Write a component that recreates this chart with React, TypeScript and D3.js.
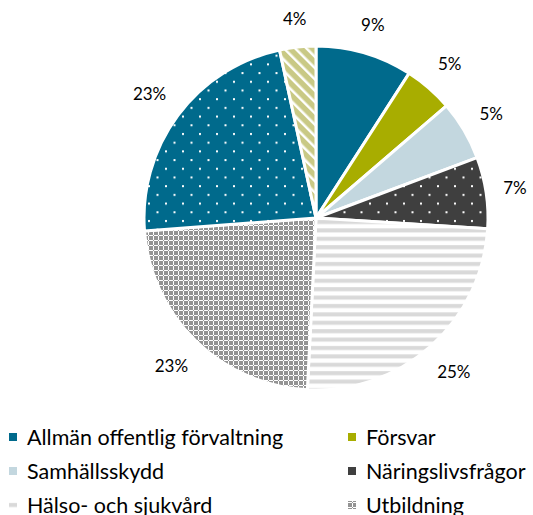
import React, { useEffect, useRef } from 'react';
import * as d3 from 'd3';

const categories = [
  'Allmän offentlig förvaltning',
  'Försvar',
  'Samhällsskydd',
  'Näringslivsfrågor',
  'Hälso- och sjukvård',
  'Utbildning',
  'Socialt skydd',
  'Övrigt',
];
const values = [9.1, 4.6, 5.6, 6.7, 24.8, 23.0, 22.8, 3.4];
const labels = ['9%', '5%', '5%', '7%', '25%', '23%', '23%', '4%'];
const fills = [
  '#006a8c',
  '#a8ad00',
  '#c3d7df',
  'url(#p-dots-dark)',
  'url(#p-hstripes)',
  'url(#p-check)',
  'url(#p-dots-teal)',
  'url(#p-diag)',
];
const legendFills = ['#006a8c', '#a8ad00', '#c3d7df', '#3f3f3f', 'url(#p-hstripes-leg)', 'url(#p-check)'];

const width = 533;
const height = 515;

const App = () => {
  const svgRef = useRef<SVGSVGElement>(null);

  useEffect(() => {
    const svg = d3.select(svgRef.current);
    svg.selectAll('*').remove();

    const defs = svg.append('defs');

    // dotted patterns (staggered white dots)
    const dots = (id, bg) => {
      const p = defs.append('pattern').attr('id', id)
        .attr('patternUnits', 'userSpaceOnUse').attr('width', 17).attr('height', 17.4);
      p.append('rect').attr('width', 17).attr('height', 17.4).attr('fill', bg);
      p.append('rect').attr('x', 2).attr('y', 2).attr('width', 2).attr('height', 2).attr('fill', '#fff');
      p.append('rect').attr('x', 10.5).attr('y', 10.7).attr('width', 2).attr('height', 2).attr('fill', '#fff');
    };
    dots('p-dots-teal', '#006a8c');
    dots('p-dots-dark', '#3f3f3f');

    const hstripes = (id, y0) => {
      const hs = defs.append('pattern').attr('id', id)
        .attr('patternUnits', 'userSpaceOnUse').attr('y', y0).attr('width', 8).attr('height', 8.4);
      hs.append('rect').attr('width', 8).attr('height', 8.4).attr('fill', '#fff');
      hs.append('rect').attr('y', 2).attr('width', 8).attr('height', 4).attr('fill', '#d9d9d9');
    };
    hstripes('p-hstripes', 0);

    const ck = defs.append('pattern').attr('id', 'p-check')
      .attr('patternUnits', 'userSpaceOnUse').attr('width', 5).attr('height', 5);
    ck.append('rect').attr('width', 5).attr('height', 5).attr('fill', '#939393');
    ck.append('rect').attr('x', 0).attr('y', 2).attr('width', 5).attr('height', 1).attr('fill', '#fff');
    ck.append('rect').attr('x', 2).attr('y', 0).attr('width', 1).attr('height', 5).attr('fill', '#fff');
    ck.append('rect').attr('x', 2).attr('y', 2).attr('width', 1).attr('height', 1).attr('fill', '#939393');

    const dg = defs.append('pattern').attr('id', 'p-diag')
      .attr('patternUnits', 'userSpaceOnUse').attr('width', 8).attr('height', 8)
      .attr('patternTransform', 'rotate(-45)');
    dg.append('rect').attr('width', 8).attr('height', 8).attr('fill', '#c9c985');
    dg.append('rect').attr('x', 0).attr('width', 2.5).attr('height', 8).attr('fill', '#fff');

    const cx = 316;
    const cy = 218;
    const r = 172;

    const data = categories.map((c, i) => ({ name: c, value: values[i], label: labels[i], fill: fills[i] }));

    const pie = d3.pie().sort(null).value(d => d.value);
    const arcs = pie(data);
    const arc = d3.arc().innerRadius(0).outerRadius(r);

    const g = svg.append('g').attr('transform', `translate(${cx},${cy})`);

    g.selectAll('path')
      .data(arcs)
      .enter()
      .append('path')
      .attr('d', arc)
      .attr('fill', d => d.data.fill)
      .attr('stroke', '#fff')
      .attr('stroke-width', 3)
      .attr('stroke-linejoin', 'round');

    // labels outside end, pushed out by half the text box
    const mid = d => (d.startAngle + d.endAngle) / 2;
    const lbl = g.selectAll('.lbl')
      .data(arcs)
      .enter()
      .append('text')
      .attr('class', 'lbl')
      .attr('text-anchor', 'middle')
      .attr('dy', '0.35em')
      .style('font-family', 'Lato, sans-serif')
      .style('font-size', '17px')
      .style('fill', '#000')
      .text(d => d.data.label);

    lbl.each(function (d) {
      const b = this.getBBox();
      const a = mid(d);
      const dist = r + 16 + Math.abs(Math.sin(a)) * b.width / 2 + Math.abs(Math.cos(a)) * b.height / 2;
      d3.select(this)
        .attr('x', Math.sin(a) * dist)
        .attr('y', -Math.cos(a) * dist);
    });

    // legend (first six entries visible)
    const legend = svg.append('g');
    const colX = [9, 348];
    const rowY = [437, 471, 505];
    categories.slice(0, 6).forEach((c, i) => {
      const x = colX[i % 2];
      const y = rowY[Math.floor(i / 2)];
      if (legendFills[i] === 'url(#p-hstripes-leg)') hstripes('p-hstripes-leg', y - 4);
      legend.append('rect')
        .attr('x', x).attr('y', y - 4).attr('width', 8).attr('height', 8)
        .attr('fill', legendFills[i]);
      legend.append('text')
        .attr('x', x + 18).attr('y', y)
        .attr('dy', '0.35em')
        .style('font-family', 'Lato, sans-serif')
        .style('font-size', '21.5px')
        .style('fill', '#000')
        .text(c);
    });
  }, []);

  return (
    <svg
      ref={svgRef}
      width={width}
      height={height}
      style={{ position: 'absolute', left: 0, top: 0, background: '#fff' }}
    />
  );
};

export default App;
